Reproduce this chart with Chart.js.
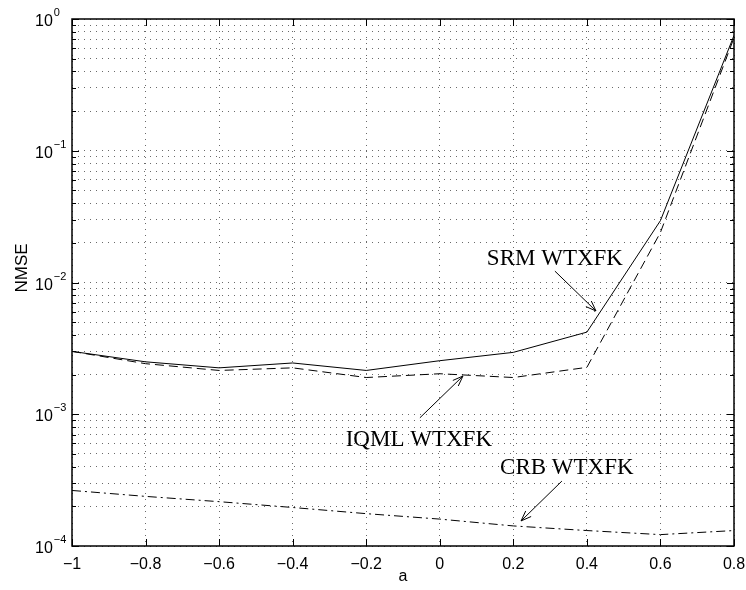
<!DOCTYPE html>
<html>
<head>
<meta charset="utf-8">
<script src="https://cdn.jsdelivr.net/npm/chart.js@4.4.1/dist/chart.umd.min.js"></script>
<style>
  html, body { margin: 0; padding: 0; background: #fff; }
  canvas { display: block; }
</style>
</head>
<body>
<canvas id="c" width="746" height="590"></canvas>
<script>
// Parameter a along the horizontal axis
const aValues = [-1, -0.8, -0.6, -0.4, -0.2, 0, 0.2, 0.4, 0.6, 0.8];

// NMSE of each estimator
const srmNmse  = [3.0e-3, 2.5e-3, 2.25e-3, 2.45e-3, 2.15e-3, 2.55e-3, 2.95e-3, 4.2e-3, 2.95e-2, 0.75];
const iqmlNmse = [3.0e-3, 2.42e-3, 2.15e-3, 2.25e-3, 1.9e-3, 2.03e-3, 1.9e-3, 2.27e-3, 2.4e-2, 0.72];
const crbNmse  = [2.64e-4, 2.38e-4, 2.17e-4, 1.96e-4, 1.76e-4, 1.6e-4, 1.42e-4, 1.31e-4, 1.22e-4, 1.31e-4];

// Axis ticks
const xTickValues = [-1, -0.8, -0.6, -0.4, -0.2, 0, 0.2, 0.4, 0.6, 0.8];
const xTickLabels = ['\u22121', '\u22120.8', '\u22120.6', '\u22120.4', '\u22120.2', '0', '0.2', '0.4', '0.6', '0.8'];
const yDecadeExponents = [0, -1, -2, -3, -4];

// Curve labels with their arrows (text anchor, arrow tail, arrow head), in data units
const noteTexts  = ['SRM WTXFK', 'IQML WTXFK', 'CRB WTXFK'];
const noteAlign  = ['left', 'right', 'left'];
const noteAnchor = [[0.128, 1.36e-2], [0.142, 5.74e-4], [0.164, 3.52e-4]];
const noteTail   = [[0.313, 1.22e-2], [-0.054, 9.4e-4], [0.332, 3.11e-4]];
const noteHead   = [[0.4247, 6.08e-3], [0.063, 1.95e-3], [0.221, 1.55e-4]];

const SANS = '"Liberation Sans", Arial, Helvetica, sans-serif';
const SERIF = '"Liberation Serif", "Times New Roman", serif';

function toPoints(values) {
  return aValues.map((a, i) => ({ x: a, y: values[i] }));
}

function drawArrow(ctx, x0, y0, x1, y1) {
  const ang = Math.atan2(y1 - y0, x1 - x0);
  const len = 11, spread = 0.36;
  ctx.beginPath();
  ctx.moveTo(x0, y0);
  ctx.lineTo(x1, y1);
  ctx.moveTo(x1 - len * Math.cos(ang - spread), y1 - len * Math.sin(ang - spread));
  ctx.lineTo(x1, y1);
  ctx.lineTo(x1 - len * Math.cos(ang + spread), y1 - len * Math.sin(ang + spread));
  ctx.stroke();
}

const axesDecor = {
  id: 'axesDecor',
  afterDatasetsDraw(chart) {
    const { ctx, chartArea: ca, scales: { x, y } } = chart;
    ctx.save();
    ctx.setLineDash([]);
    ctx.strokeStyle = '#000';
    ctx.lineWidth = 1;

    // inward tick marks
    ctx.beginPath();
    x.ticks.forEach(t => {
      const px = Math.round(x.getPixelForValue(t.value)) + 0.5;
      ctx.moveTo(px, ca.bottom); ctx.lineTo(px, ca.bottom - 7);
      ctx.moveTo(px, ca.top); ctx.lineTo(px, ca.top + 7);
    });
    y.ticks.forEach(t => {
      const py = Math.round(y.getPixelForValue(t.value)) + 0.5;
      const lg = Math.log10(t.value);
      const major = Math.abs(lg - Math.round(lg)) < 1e-6;
      const len = major ? 7 : 4;
      ctx.moveTo(ca.left, py); ctx.lineTo(ca.left + len, py);
      ctx.moveTo(ca.right, py); ctx.lineTo(ca.right - len, py);
    });
    ctx.stroke();

    // axes box
    ctx.lineWidth = 1.5;
    ctx.strokeRect(ca.left, ca.top, ca.right - ca.left, ca.bottom - ca.top);

    // y tick labels as powers of ten
    ctx.fillStyle = '#000';
    ctx.textBaseline = 'alphabetic';
    ctx.textAlign = 'left';
    yDecadeExponents.forEach(e => {
      const py = y.getPixelForValue(Math.pow(10, e));
      ctx.font = '16px ' + SANS;
      ctx.fillText('10', 35, py + 7);
      const w = ctx.measureText('10').width;
      ctx.font = '11px ' + SANS;
      ctx.fillText(e === 0 ? '0' : '\u2212' + Math.abs(e), 35 + w + 1, py - 3);
    });

    // axis titles
    ctx.font = '16px ' + SANS;
    ctx.textAlign = 'center';
    ctx.textBaseline = 'middle';
    ctx.fillText('a', (ca.left + ca.right) / 2, 577);
    ctx.font = '17px ' + SANS;
    ctx.save();
    ctx.translate(22, 268);
    ctx.rotate(-Math.PI / 2);
    ctx.fillText('NMSE', 0, 0);
    ctx.restore();

    // curve labels and arrows
    ctx.lineWidth = 1;
    ctx.font = '23px ' + SERIF;
    ctx.textBaseline = 'alphabetic';
    noteTexts.forEach((txt, i) => {
      ctx.textAlign = noteAlign[i];
      ctx.fillText(txt, x.getPixelForValue(noteAnchor[i][0]), y.getPixelForValue(noteAnchor[i][1]));
      drawArrow(ctx,
        x.getPixelForValue(noteTail[i][0]), y.getPixelForValue(noteTail[i][1]),
        x.getPixelForValue(noteHead[i][0]), y.getPixelForValue(noteHead[i][1]));
    });
    ctx.restore();
  }
};

new Chart(document.getElementById('c'), {
  type: 'line',
  data: {
    datasets: [
      { label: 'SRM WTXFK', data: toPoints(srmNmse), borderColor: '#000', borderWidth: 1, pointRadius: 0, tension: 0 },
      { label: 'IQML WTXFK', data: toPoints(iqmlNmse), borderColor: '#000', borderWidth: 1, borderDash: [9, 5], pointRadius: 0, tension: 0 },
      { label: 'CRB WTXFK', data: toPoints(crbNmse), borderColor: '#000', borderWidth: 1, borderDash: [9, 4, 2, 4], pointRadius: 0, tension: 0 }
    ]
  },
  options: {
    responsive: false,
    animation: false,
    devicePixelRatio: 1,
    layout: { padding: { top: 19, right: 12, left: 0, bottom: 0 } },
    plugins: { legend: { display: false }, tooltip: { enabled: false } },
    scales: {
      x: {
        type: 'linear',
        min: -1,
        max: 0.8,
        afterBuildTicks: s => { s.ticks = xTickValues.map(v => ({ value: v })); },
        afterFit: s => { s.height = 44; s.paddingLeft = 0; s.paddingRight = 0; },
        grid: { color: '#6a6a6a', lineWidth: 1, drawTicks: false },
        border: { display: false, dash: [1, 5] },
        ticks: {
          autoSkip: false,
          maxRotation: 0,
          padding: 9,
          color: '#000',
          font: { family: SANS, size: 16 },
          callback: (v, i) => xTickLabels[i]
        }
      },
      y: {
        type: 'logarithmic',
        min: 1e-4,
        max: 1,
        afterBuildTicks: s => {
          const ticks = [];
          const lo = Math.min(...yDecadeExponents), hi = Math.max(...yDecadeExponents);
          for (let e = lo; e < hi; e++) {
            for (let m = 1; m <= 9; m++) ticks.push({ value: m * Math.pow(10, e) });
          }
          ticks.push({ value: Math.pow(10, hi) });
          s.ticks = ticks;
        },
        afterFit: s => { s.width = 72; s.paddingTop = 0; s.paddingBottom = 0; },
        grid: { color: '#6a6a6a', lineWidth: 1, drawTicks: false },
        border: { display: false, dash: [1, 5] },
        ticks: { display: false, autoSkip: false }
      }
    }
  },
  plugins: [axesDecor]
});
</script>
</body>
</html>
